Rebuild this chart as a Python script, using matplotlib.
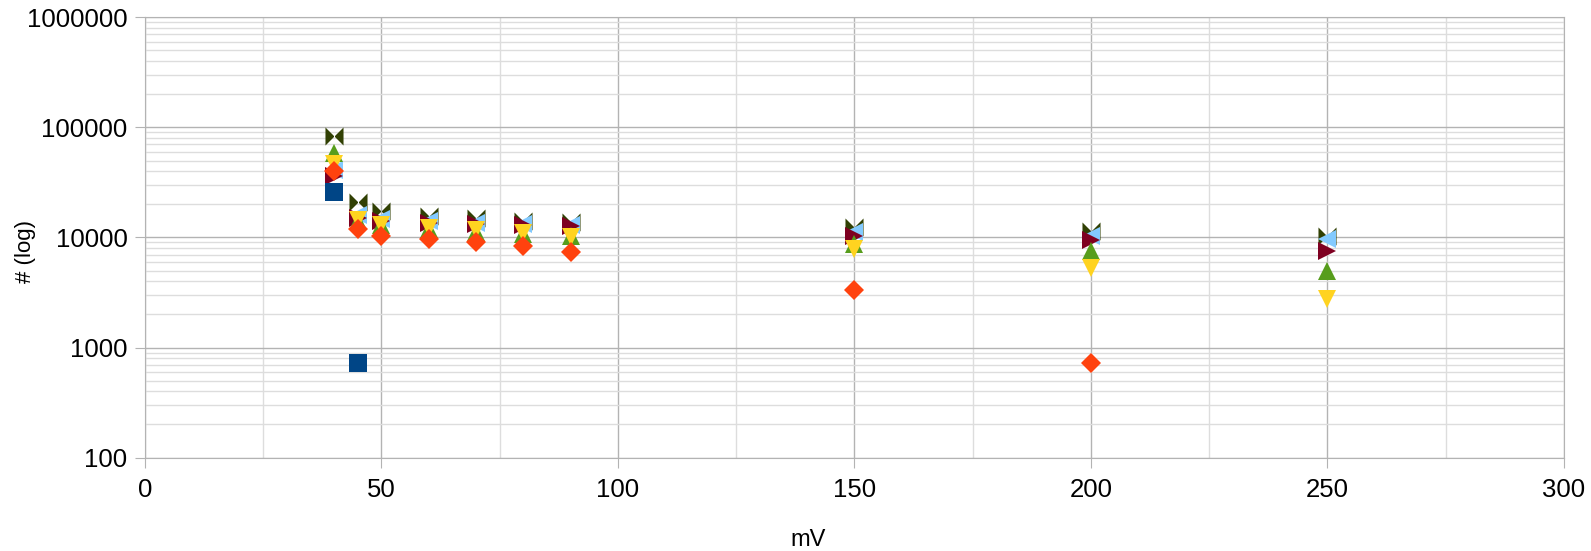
import matplotlib
matplotlib.use("Agg")
import matplotlib.pyplot as plt
from matplotlib.path import Path
from matplotlib.ticker import FixedLocator, NullFormatter
import numpy as np

plt.rcParams['font.family'] = ['Liberation Sans', 'DejaVu Sans']

# Data
x_all = [40, 45, 50, 60, 70, 80, 90, 150, 200, 250]
x_blue = [40, 45]
s_blue = [26000, 720]
x_orange = [40, 45, 50, 60, 70, 80, 90, 150, 200]
s_orange = [40500, 11900, 10400, 9600, 9000, 8300, 7450, 3320, 720]
s_yellow = [46000, 14400, 13100, 12100, 11600, 10900, 10200, 7800, 5300, 2750]
s_green = [59000, 14000, 13000, 12000, 11200, 10800, 10400, 8700, 7500, 4950]
s_darkred = [36000, 15000, 14200, 13600, 13200, 12900, 12800, 10400, 9500, 7500]
s_lightblue = [41000, 16000, 14600, 14000, 13500, 13200, 13000, 11200, 10400, 9600]
s_bowtie = [83500, 21000, 17400, 15600, 15000, 14000, 13700, 12400, 11400, 10400]

x_ticks = [0, 50, 100, 150, 200, 250, 300]
y_ticks = [100, 1000, 10000, 100000, 1000000]
y_tick_labels = ["100", "1000", "10000", "100000", "1000000"]

bowtie = Path([(-1, -1), (0, 0), (-1, 1), (-1, -1), (1, -1), (0, 0), (1, 1), (1, -1)],
              [Path.MOVETO, Path.LINETO, Path.LINETO, Path.CLOSEPOLY,
               Path.MOVETO, Path.LINETO, Path.LINETO, Path.CLOSEPOLY])

fig = plt.figure(figsize=(15.91, 5.51), dpi=100)
ax = fig.add_axes([0.0911, 0.1695, 0.8919, 0.7991])

ms = 13
series = [
    (x_all, s_bowtie, bowtie, '#314004', ms, 3),
    (x_all, s_lightblue, '<', '#83caff', ms, 4),
    (x_all, s_darkred, '>', '#7e0021', ms, 5),
    (x_all, s_green, '^', '#579d1c', ms, 6),
    (x_all, s_yellow, 'v', '#ffd320', ms, 7),
    (x_orange, s_orange, 'D', '#ff420e', ms * 0.78, 8),
    (x_blue, s_blue, 's', '#004586', ms, 9),
]
for xs, ys, m, c, size, z in series:
    ax.plot(xs, ys, linestyle='none', marker=m, color=c, markersize=size,
            markeredgewidth=0, zorder=z, clip_on=False)

ax.set_yscale('log')
ax.set_xlim(0, 300)
ax.set_ylim(100, 1000000)
ax.xaxis.set_major_locator(FixedLocator(x_ticks))
ax.xaxis.set_minor_locator(FixedLocator([25, 75, 125, 175, 225, 275]))
ax.set_yticks(y_ticks)
ax.set_yticklabels(y_tick_labels)
ax.yaxis.set_minor_formatter(NullFormatter())

ax.grid(True, which='major', color='#b3b3b3', linewidth=1)
ax.grid(True, which='minor', color='#dddddd', linewidth=1)
ax.set_axisbelow(True)
for sp in ax.spines.values():
    sp.set_color('#b3b3b3')
ax.tick_params(which='major', length=7.5, color='#b3b3b3', labelsize=18.5)
ax.tick_params(axis='y', pad=5)
ax.tick_params(axis='x', pad=7)
ax.tick_params(which='minor', length=0)

fig.text(808 / 1591, 1 - 540 / 551, 'mV', fontsize=17, ha='center', va='center')
fig.text(26 / 1591, 1 - 252 / 551, '# (log)', fontsize=16, ha='center', va='center',
         rotation=90)

fig.savefig('out.png', dpi=100)
